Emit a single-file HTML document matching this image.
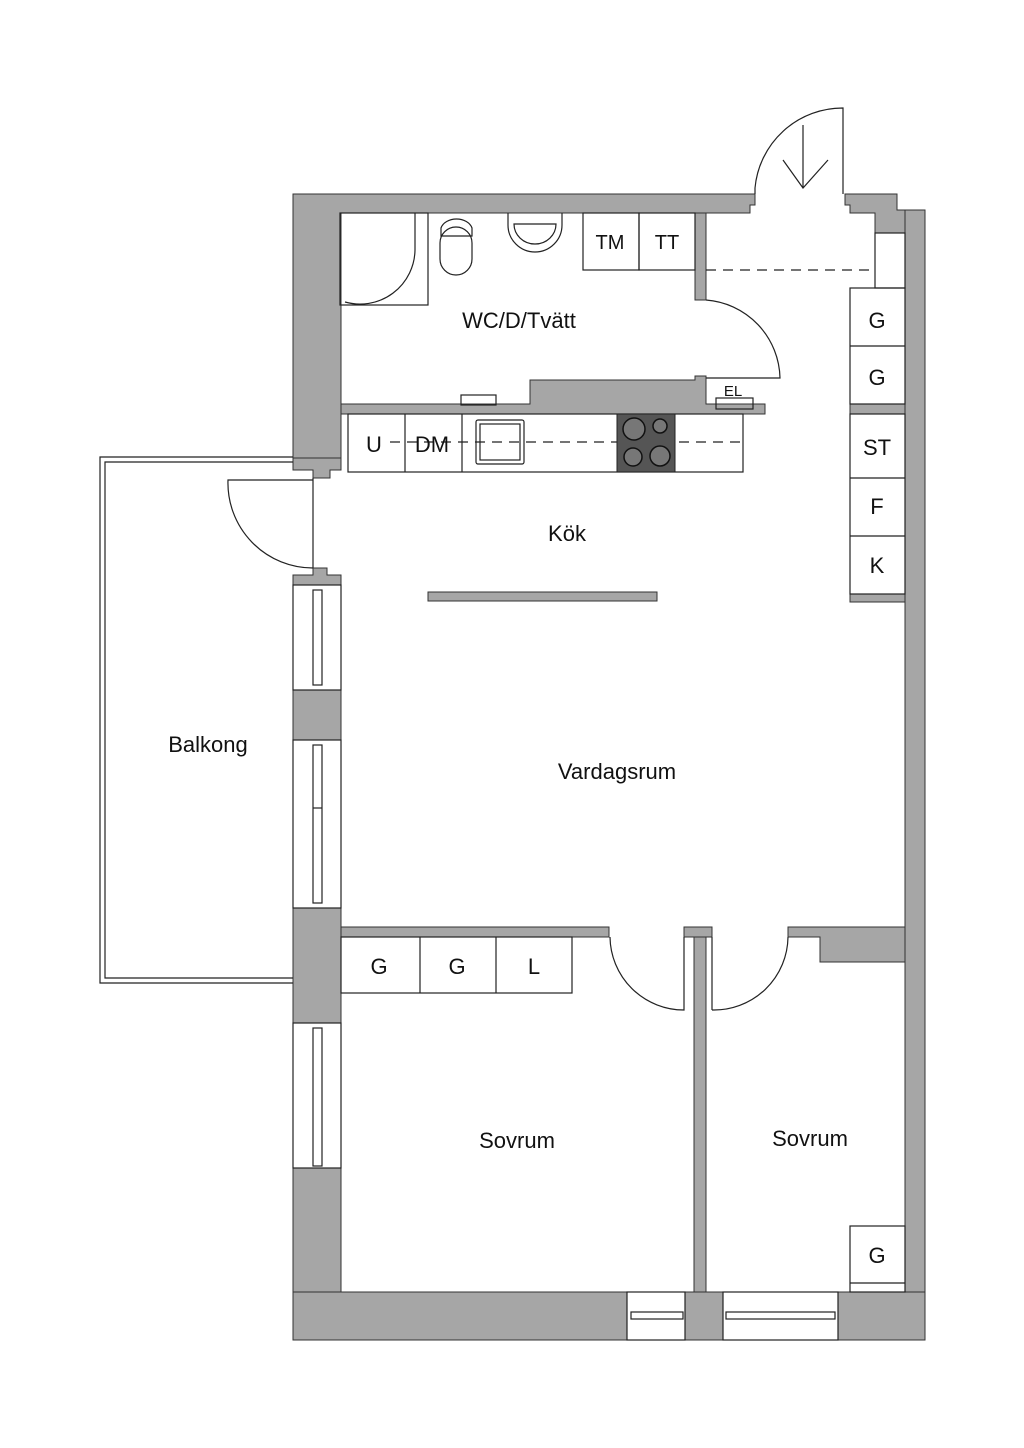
<!DOCTYPE html>
<html><head><meta charset="utf-8"><style>
html,body{margin:0;padding:0;background:#fff;}
svg{display:block;}
text{font-family:"Liberation Sans",sans-serif;fill:#111;}
</style></head><body>
<svg width="1024" height="1448" viewBox="0 0 1024 1448" xmlns="http://www.w3.org/2000/svg">
<g fill="#a6a6a6" stroke="#333" stroke-width="1">
<!-- top wall left part -->
<path d="M293,194 H755 V205 H750 V213 H341 V458 H293 Z"/>
<!-- top wall right part -->
<path d="M845,194 V205 H850 V213 H875 V233 H905 V213 H897 V210 H925 V1340 H905 V213 Z" />
<rect x="905" y="210" width="20" height="1130"/>
<path d="M845,194 H897 V210 H905 V233 H875 V213 H850 V205 H845 Z"/>
<!-- left wall upper down to balcony door -->
<rect x="293" y="458" width="20" height="12"/>
<path d="M293,458 H341 V470 H330 V478 H313 V470 H293 Z"/>
<!-- below balcony door -->
<path d="M293,575 H313 V568 H327 V575 H341 V585 H293 Z"/>
<rect x="293" y="690" width="48" height="50"/>
<rect x="293" y="908" width="48" height="115"/>
<rect x="293" y="1168" width="48" height="172"/>
<!-- bottom wall -->
<rect x="293" y="1292" width="334" height="48"/>
<rect x="685" y="1292" width="38" height="48"/>
<rect x="838" y="1292" width="87" height="48"/>
<!-- WC right wall & bottom -->
<rect x="695" y="213" width="11" height="87"/>
<path d="M341,404 H530 V380 H695 V376 H706 V404 H765 V414 H341 Z"/>
<!-- right cabinet separators -->
<rect x="850" y="404" width="55" height="10"/>
<rect x="850" y="594" width="55" height="8"/>
<!-- vardagsrum bottom wall -->
<rect x="341" y="927" width="268" height="10"/>
<rect x="684" y="927" width="28" height="10"/>
<rect x="694" y="937" width="12" height="355"/>
<path d="M788,927 H905 V962 H820 V937 H788 Z"/>
<!-- island bar -->
<rect x="428" y="592" width="229" height="9"/>
</g>
<g fill="none" stroke="#222" stroke-width="1.2">
<!-- balcony -->
<path d="M293,457 H100 V983 H293"/>
<path d="M293,462 H105 V978 H293"/>
<!-- windows left -->
<rect x="293" y="585" width="48" height="105"/>
<rect x="313" y="590" width="9" height="95"/>
<rect x="293" y="740" width="48" height="168"/>
<rect x="313" y="745" width="9" height="158"/><line x1="313" y1="808" x2="322" y2="808"/>
<rect x="293" y="1023" width="48" height="145"/>
<rect x="313" y="1028" width="9" height="138"/>
<line x1="313" y1="478" x2="313" y2="568"/>
<!-- bottom windows -->
<rect x="627" y="1292" width="58" height="48"/><rect x="631" y="1312" width="52" height="7"/>
<rect x="723" y="1292" width="115" height="48"/><rect x="726" y="1312" width="109" height="7"/>
<!-- doors -->
<path d="M755,194 V188 A88,88 0 0 1 843,108 V194"/>
<path d="M783,160 L803,188 L828,160 M803,188 V125"/>
<path d="M706,300 A80,80 0 0 1 780,378 H706"/>
<path d="M313,568 A85,85 0 0 1 228,480 H313"/>
<path d="M610,937 A74,74 0 0 0 684,1010 V937"/>
<path d="M712,1010 A74,74 0 0 0 788,937"/>
<line x1="712" y1="937" x2="712" y2="1010"/>
<!-- top WC items -->
<rect x="340" y="213" width="88" height="92"/>
<path d="M415,213 V250 A55,55 0 0 1 345,302"/>
<rect x="440" y="227" width="32" height="48" rx="16"/>
<path d="M441,228 A16,12 0 0 1 472,228 V236 H441 Z"/>
<path d="M508,213 V225 A27,27 0 0 0 562,225 V213"/>
<path d="M514,224 A21,20 0 0 0 556,224 Z"/>
<rect x="583" y="213" width="56" height="57"/><rect x="639" y="213" width="56" height="57"/>
<line x1="706" y1="270" x2="875" y2="270" stroke-dasharray="10,7"/>
<rect x="875" y="233" width="30" height="55"/>
<rect x="461" y="395" width="35" height="10"/>
<rect x="716" y="398" width="37" height="11"/>
<!-- kitchen counter -->
<rect x="348" y="414" width="395" height="58"/>
<line x1="405" y1="414" x2="405" y2="472"/><line x1="462" y1="414" x2="462" y2="472"/>
<rect x="476" y="420" width="48" height="44" rx="2"/><rect x="480" y="424" width="40" height="36"/>
<line x1="390" y1="442" x2="743" y2="442" stroke-dasharray="10,7"/>
<!-- right cabinets -->
<rect x="850" y="288" width="55" height="116"/><line x1="850" y1="346" x2="905" y2="346"/>
<rect x="850" y="414" width="55" height="180"/><line x1="850" y1="478" x2="905" y2="478"/><line x1="850" y1="536" x2="905" y2="536"/>
<!-- bedroom cabinets -->
<rect x="341" y="937" width="231" height="56"/>
<line x1="420" y1="937" x2="420" y2="993"/><line x1="496" y1="937" x2="496" y2="993"/>
<rect x="850" y="1226" width="55" height="66"/><line x1="850" y1="1283" x2="905" y2="1283"/>
</g>
<rect x="617" y="414" width="58" height="58" fill="#555" stroke="#222"/>
<g fill="#777" stroke="#111" stroke-width="1.5">
<circle cx="634" cy="429" r="11"/><circle cx="660" cy="426" r="7"/>
<circle cx="633" cy="457" r="9"/><circle cx="660" cy="456" r="10"/>
</g>
<g font-size="22" text-anchor="middle">
<text x="519" y="328">WC/D/Tvätt</text>
<text x="567" y="541">Kök</text>
<text x="617" y="779">Vardagsrum</text>
<text x="208" y="752">Balkong</text>
<text x="517" y="1148">Sovrum</text>
<text x="810" y="1146">Sovrum</text>
<text x="610" y="249" font-size="20">TM</text>
<text x="667" y="249" font-size="20">TT</text>
<text x="374" y="452">U</text>
<text x="432" y="452">DM</text>
<text x="877" y="328">G</text>
<text x="877" y="385">G</text>
<text x="877" y="455">ST</text>
<text x="877" y="514">F</text>
<text x="877" y="573">K</text>
<text x="379" y="974">G</text>
<text x="457" y="974">G</text>
<text x="534" y="974">L</text>
<text x="877" y="1263">G</text>
<text x="733" y="396" font-size="15">EL</text>
</g>
</svg>
</body></html>
